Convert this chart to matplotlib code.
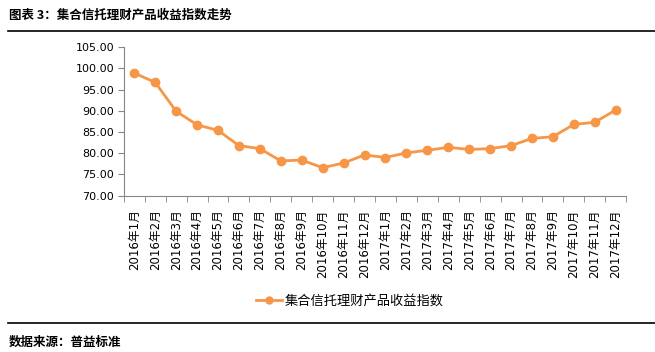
import numpy as np
import matplotlib
matplotlib.use('Agg')
import matplotlib.pyplot as plt
from matplotlib.ticker import FixedLocator, FormatStrFormatter

plt.rcParams['font.family'] = ['Noto Sans CJK SC', 'DejaVu Sans']

# data
months = [f'2016年{m}月' for m in range(1, 13)] + [f'2017年{m}月' for m in range(1, 13)]
index_values = [98.9, 96.7, 89.9, 86.7, 85.4, 81.8, 81.1, 78.2, 78.4, 76.6, 77.7, 79.6,
                79.0, 80.1, 80.7, 81.4, 80.9, 81.1, 81.8, 83.5, 83.9, 86.8, 87.3, 90.2]
series_name = '集合信托理财产品收益指数'
title = '图表 3：集合信托理财产品收益指数走势'
source = '数据来源：普益标准'

orange = '#F79646'
axis_grey = '#868686'

fig = plt.figure(figsize=(6.55, 3.52), dpi=100)
ax = fig.add_axes([0.189, 0.444, 0.767, 0.422])

x = np.arange(len(months))
ax.plot(x, index_values, color=orange, lw=2, marker='o', ms=6,
        markerfacecolor=orange, markeredgecolor=orange, label=series_name)

ax.set_xlim(-0.5, len(months) - 0.5)
ax.set_ylim(70, 105)
ax.set_yticks(np.arange(70, 105.1, 5))
ax.yaxis.set_major_formatter(FormatStrFormatter('%.2f'))
for lab in ax.get_yticklabels():
    lab.set_family('DejaVu Sans')
    lab.set_fontsize(8)
ax.tick_params(axis='y', length=4, color=axis_grey, direction='out', pad=3)

ax.set_xticks(x)
ax.set_xticklabels(months, rotation=90, fontsize=8.5, family=['DejaVu Sans', 'Noto Sans CJK SC'])
ax.tick_params(axis='x', which='major', length=0, pad=10)
ax.xaxis.set_minor_locator(FixedLocator(np.arange(-0.5, len(months), 1)))
ax.tick_params(axis='x', which='minor', length=4, color=axis_grey, direction='out')

for side in ['top', 'right']:
    ax.spines[side].set_visible(False)
for side in ['left', 'bottom']:
    ax.spines[side].set_color(axis_grey)
    ax.spines[side].set_linewidth(0.8)

leg = fig.legend(loc='center', bbox_to_anchor=(0.534, 0.145), frameon=False,
                 fontsize=9.5, handlelength=2.0, handletextpad=0.15)
for h in leg.legend_handles:
    h.set_markersize(5)

# title, rules and source note
fig.text(0.014, 0.957, title, fontsize=9, fontweight='bold', va='center')
fig.add_artist(plt.Line2D([0.012, 1.0], [0.912, 0.912], color='black', lw=1.2))
fig.add_artist(plt.Line2D([0.012, 1.0], [0.082, 0.082], color='black', lw=1.2))
fig.text(0.014, 0.028, source, fontsize=9, fontweight='bold', va='center')

fig.savefig('out.png', dpi=100)
